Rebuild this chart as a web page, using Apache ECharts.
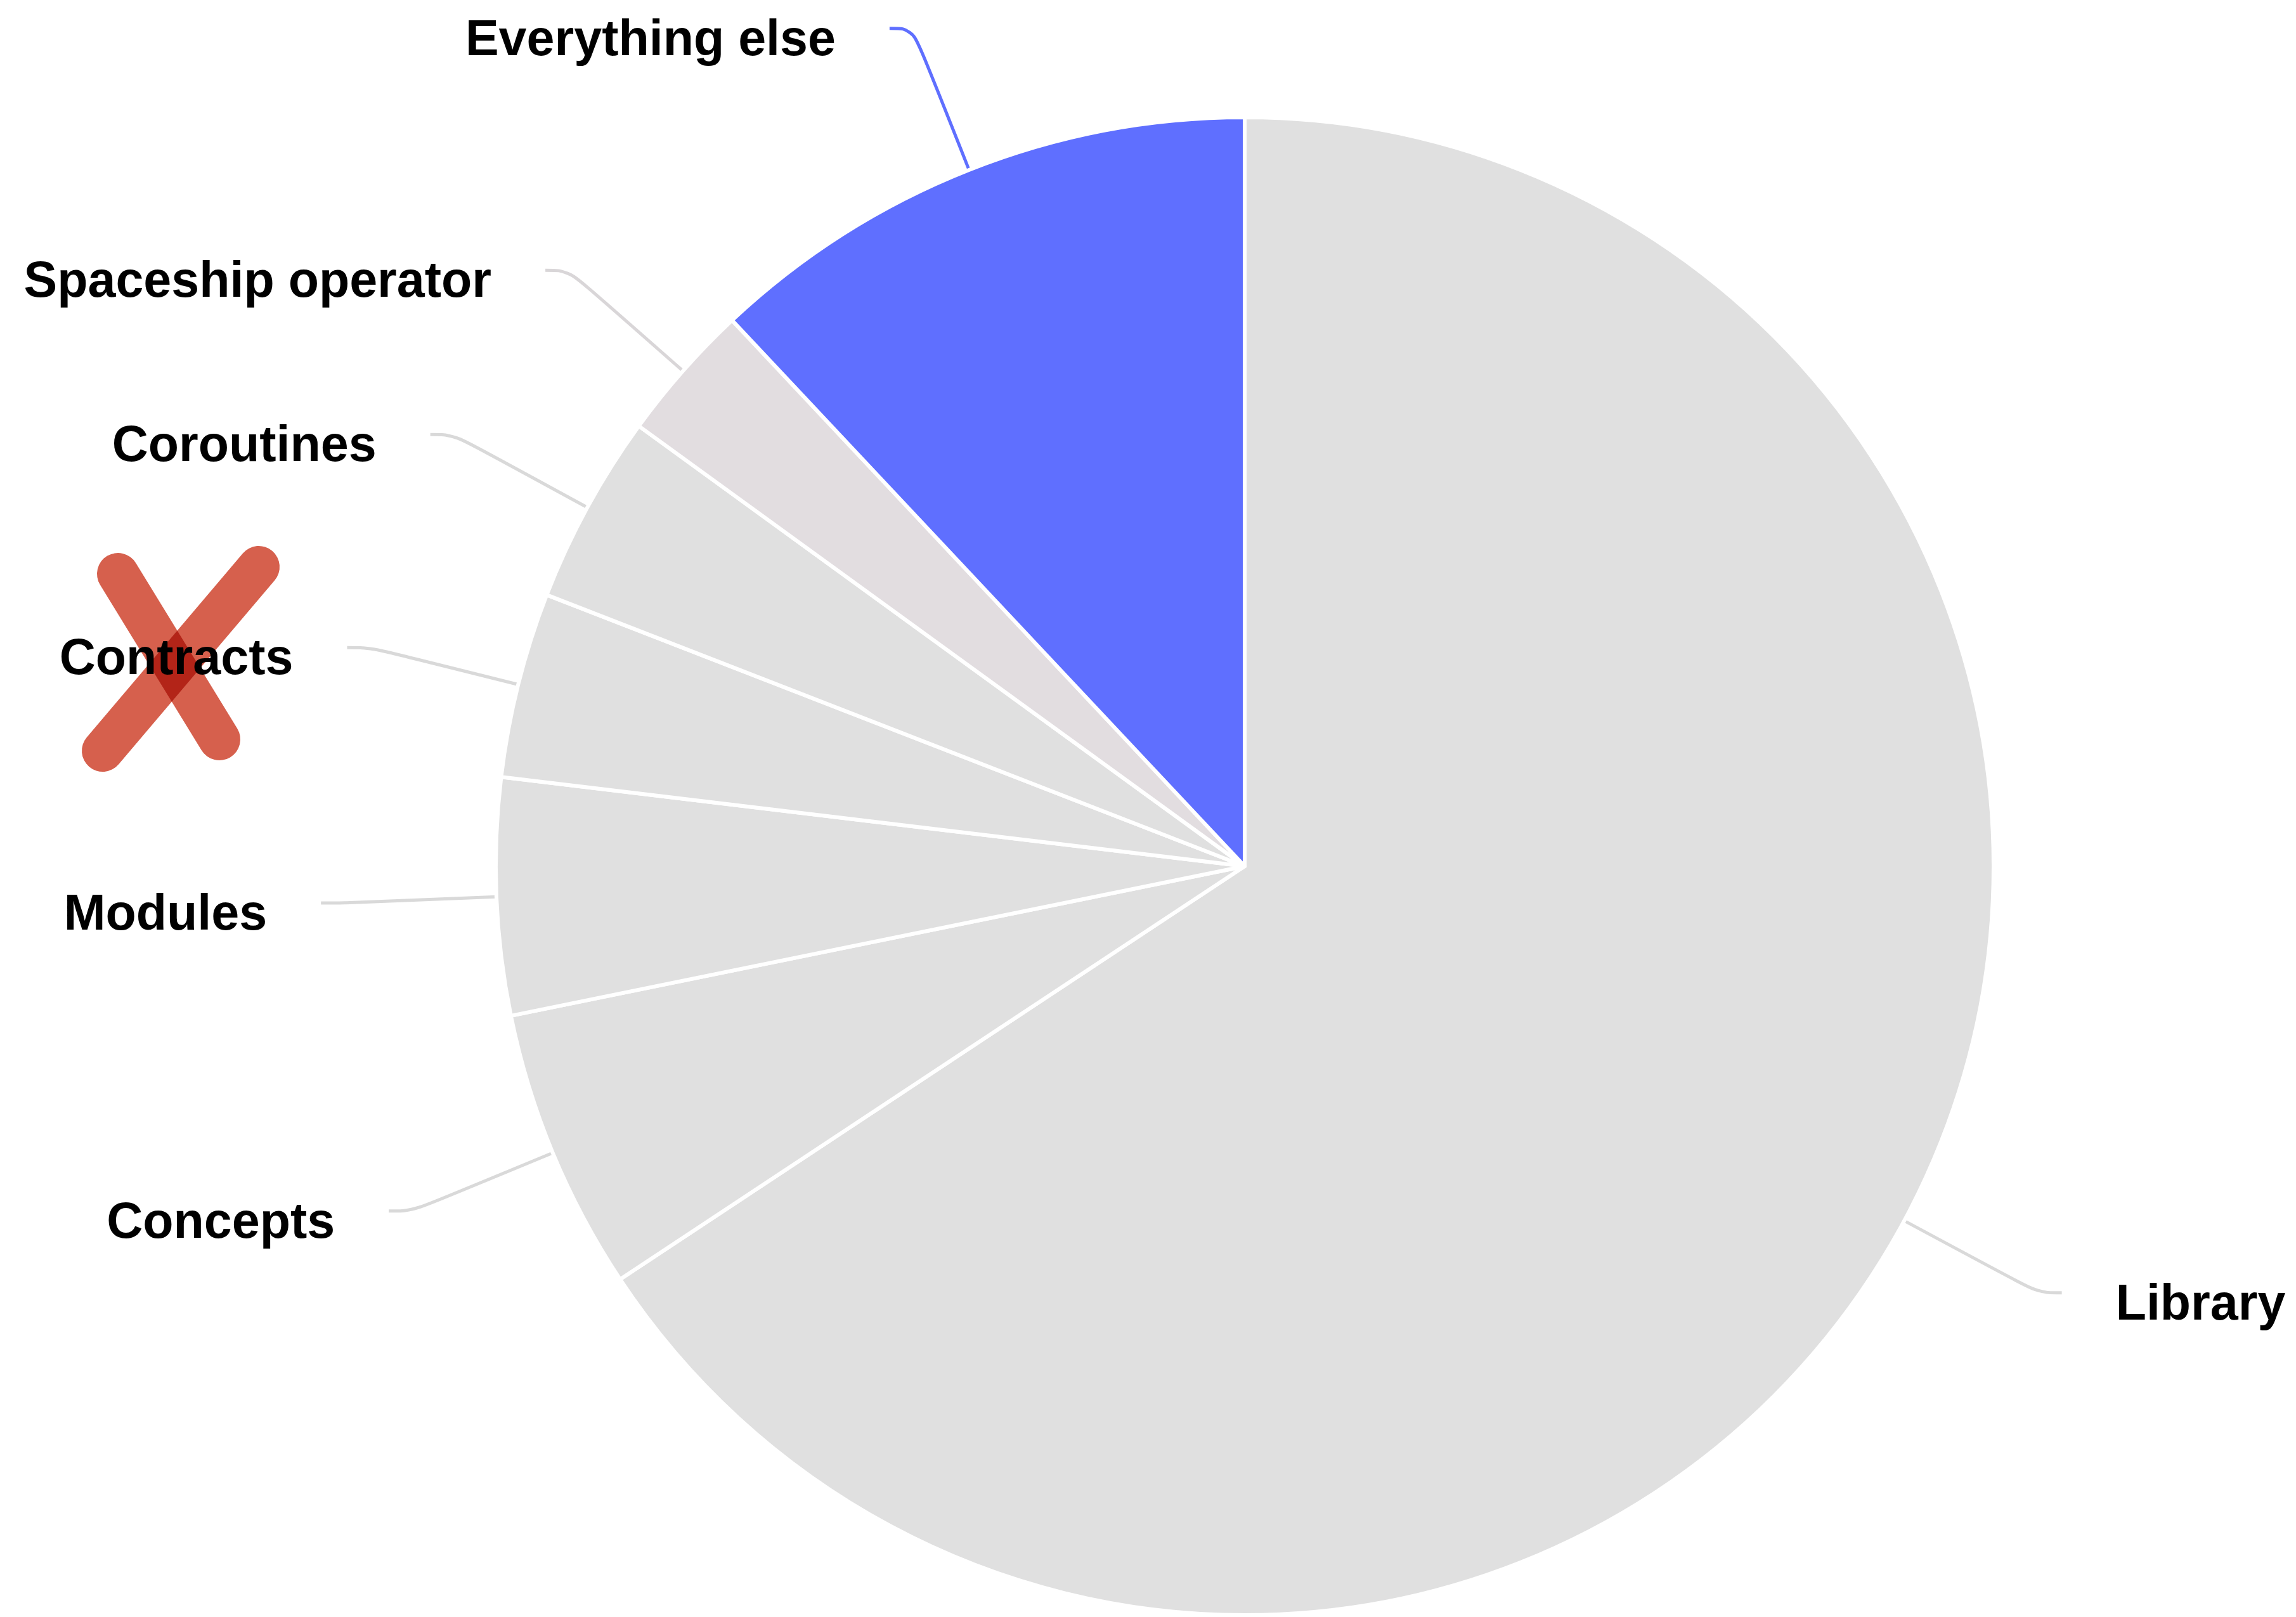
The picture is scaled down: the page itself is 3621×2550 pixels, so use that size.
<!DOCTYPE html>
<html lang="en">
<head>
    <meta charset="UTF-8">
    <title>pie</title>
    <script src="https://cdn.jsdelivr.net/npm/echarts@6/dist/echarts.min.js"></script>
    <style>
        html, body { margin: 0; padding: 0; background: #fff; }
        #main { width: 3621px; height: 2550px; }
    </style>
</head>
<body>
<div id="main"></div>
<script type="text/javascript">
    // slices, clockwise from 12 o'clock
    const categories = ['Library', 'Concepts', 'Modules', 'Contracts', 'Coroutines', 'Spaceship operator', 'Everything else'];
    const values = [65.7, 6.1, 5.1, 4.0, 4.1, 3.0, 12.0];
    const sliceColors = ['#e0e0e0', '#e0e0e0', '#e0e0e0', '#e0e0e0', '#e0e0e0', '#e2dde0', '#5f6fff'];
    const lineColors = ['#d9d9d9', '#d9d9d9', '#d9d9d9', '#d9d9d9', '#d9d9d9', '#d9d6d8', '#5f6fff'];

    let myChart = echarts.init(document.getElementById('main'));

    let data = categories.map(function (name, i) {
        return {
            name: name,
            value: values[i],
            itemStyle: { color: sliceColors[i] },
            labelLine: { lineStyle: { color: lineColors[i] } }
        };
    });

    const option = {
        backgroundColor: '#ffffff',
        animation: false,
        series: [{
            type: 'pie',
            center: [1963, 1366],
            radius: 1181,
            startAngle: 90,
            clockwise: true,
            avoidLabelOverlap: false,
            itemStyle: { borderColor: '#ffffff', borderWidth: 6 },
            label: {
                show: true,
                position: 'outer',
                color: '#000',
                fontFamily: 'Liberation Sans, Arial, sans-serif',
                fontWeight: 'bold',
                fontSize: 79,
                distanceToLabelLine: 85,
                bleedMargin: 0
            },
            // text sits a little below the end of its leader line
            labelLayout: function () {
                return { dy: 20 };
            },
            labelLine: {
                show: true,
                length: 240,
                length2: 37,
                smooth: 0.4,
                lineStyle: { width: 5 }
            },
            emphasis: { disabled: true },
            data: data
        }],
        // hand-drawn red cross over the Contracts label
        graphic: [{
            type: 'group',
            z: 100,
            children: [{
                type: 'line',
                shape: { x1: 186, y1: 905, x2: 346, y2: 1166 },
                style: { stroke: '#d6604d', lineWidth: 66, lineCap: 'round', blend: 'multiply' }
            }, {
                type: 'line',
                shape: { x1: 408, y1: 894, x2: 162, y2: 1184 },
                style: { stroke: '#d6604d', lineWidth: 66, lineCap: 'round', blend: 'multiply' }
            }]
        }]
    };
    myChart.setOption(option);
</script>
</body>
</html>
